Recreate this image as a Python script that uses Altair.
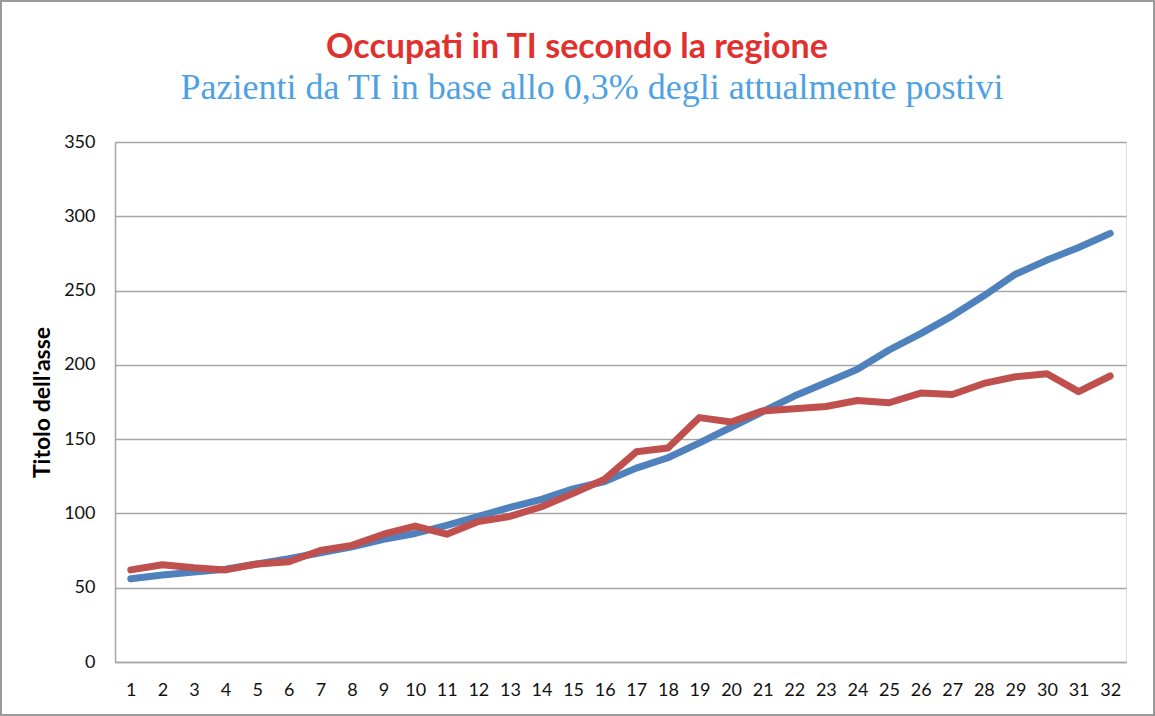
import altair as alt
import pandas as pd

days = list(range(1, 33))
blue_vals = [56, 58.5, 60.5, 62.5, 66, 69.5, 73.5, 77.5, 82.5, 86.5, 92, 98, 104, 109.5,
             116.5, 121.5, 130.5, 137.5, 147.5, 158, 168.5, 179, 188, 197, 210, 221, 233,
             246.5, 261, 270.5, 279, 288.5]
red_vals = [62, 65.5, 63.5, 62, 66, 67.5, 75, 78.5, 86, 91.5, 86, 94.5, 98, 104.5,
            113.5, 123, 141.5, 144, 164.5, 161.5, 169, 170.5, 172, 176, 174.5, 181, 180,
            187.5, 192, 194, 182, 192.5]
y_ticks = [0, 50, 100, 150, 200, 250, 300, 350]

title_text = "Occupati in TI secondo la regione"
subtitle_text = "Pazienti da TI in base allo 0,3% degli attualmente postivi"

df = pd.DataFrame({"giorno": days + days,
                   "valore": blue_vals + red_vals,
                   "serie": ["Pazienti stimati"] * len(days) + ["Occupati TI"] * len(days)})

W, H = 1011, 520
PL, PT, PR, PB = 115, 142, 29, 54

x_enc = alt.X("giorno:O", scale=alt.Scale(padding=0.5),
              axis=alt.Axis(title=None, labelAngle=0, ticks=False, grid=False,
                            domainColor="#a6a6a6", domainWidth=1.5,
                            labelFont="Lato", labelFontSize=18, labelColor="#111111",
                            labelPadding=19))
y_enc = alt.Y("valore:Q", scale=alt.Scale(domain=[0, 350], nice=False),
              axis=alt.Axis(values=y_ticks, title="Titolo dell'asse", ticks=False,
                            gridColor="#a6a6a6", gridWidth=1.5,
                            domainColor="#a6a6a6", domainWidth=1.5,
                            labelFont="Lato", labelFontSize=18, labelColor="#111111",
                            labelPadding=20, titleFont="Lato", titleFontSize=23,
                            titleFontWeight="bold", titleColor="#000000", titlePadding=9))

color = alt.Color("serie:N", scale=alt.Scale(domain=["Pazienti stimati", "Occupati TI"],
                                             range=["#4f81bd", "#c0504d"]), legend=None)

blue = alt.Chart(df).transform_filter(alt.datum.serie == "Pazienti stimati").mark_line(
    strokeWidth=7, strokeCap="round", strokeJoin="round").encode(x=x_enc, y=y_enc, color=color)
red = alt.Chart(df).transform_filter(alt.datum.serie == "Occupati TI").mark_line(
    strokeWidth=7, strokeCap="round", strokeJoin="round").encode(x=x_enc, y=y_enc, color=color)

border = alt.Chart(df).mark_rect(fill=None, stroke="#9a9a9a", strokeWidth=1.5).encode(
    x=alt.value(-PL + 1), x2=alt.value(W + PR - 1),
    y=alt.value(-PT + 1), y2=alt.value(H + PB - 1))

title_df = pd.DataFrame({"t": [title_text]})
subtitle_df = pd.DataFrame({"t": [subtitle_text]})

title_mark = alt.Chart(title_df).mark_text(
    font="Lato", fontSize=34, fontWeight="bold", color="#e0312f",
    align="center", baseline="alphabetic").encode(
    text="t:N", x=alt.value(577 - PL), y=alt.value(58 - PT))
subtitle_mark = alt.Chart(subtitle_df).mark_text(
    font="Liberation Serif", fontSize=36, color="#4ea1e2",
    align="center", baseline="alphabetic").encode(
    text="t:N", x=alt.value(592 - PL), y=alt.value(99 - PT))

chart = alt.layer(blue, red, border, title_mark, subtitle_mark).properties(
    width=W, height=H,
    autosize=alt.AutoSizeParams(type="none"),
    padding={"left": PL, "top": PT, "right": PR, "bottom": PB},
).configure_view(stroke=None).configure(background="white")

chart.save("out.html", embed_options={"renderer": "svg", "actions": False})
